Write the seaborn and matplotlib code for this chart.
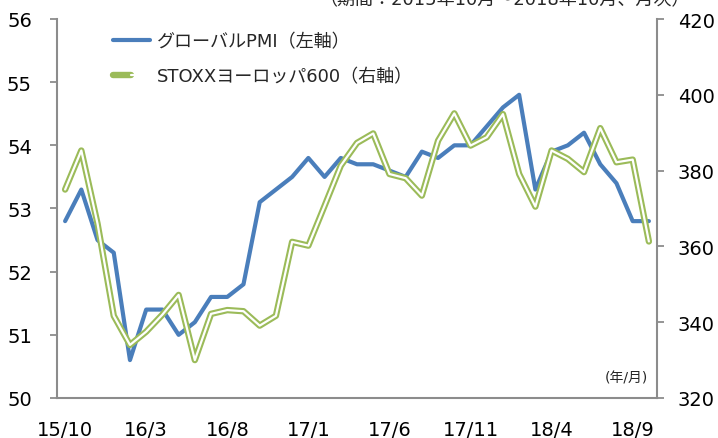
import matplotlib
matplotlib.use("Agg")
import matplotlib.pyplot as plt
from matplotlib.lines import Line2D
from matplotlib.legend_handler import HandlerTuple
import seaborn as sns
import pandas as pd
import numpy as np

# ---- data ----
months = ["15/10", "15/11", "15/12", "16/1", "16/2", "16/3", "16/4", "16/5", "16/6", "16/7",
          "16/8", "16/9", "16/10", "16/11", "16/12", "17/1", "17/2", "17/3", "17/4", "17/5",
          "17/6", "17/7", "17/8", "17/9", "17/10", "17/11", "17/12", "18/1", "18/2", "18/3",
          "18/4", "18/5", "18/6", "18/7", "18/8", "18/9", "18/10"]
pmi = [52.8, 53.3, 52.5, 52.3, 50.6, 51.4, 51.4, 51.0, 51.2, 51.6,
       51.6, 51.8, 53.1, 53.3, 53.5, 53.8, 53.5, 53.8, 53.7, 53.7,
       53.6, 53.5, 53.9, 53.8, 54.0, 54.0, 54.3, 54.6, 54.8, 53.3,
       53.9, 54.0, 54.2, 53.7, 53.4, 52.8, 52.8]
stoxx = [375.0, 385.3, 366.0, 341.7, 334.0, 337.5, 342.0, 347.2, 330.0, 342.2,
         343.2, 342.9, 339.1, 341.7, 361.2, 360.2, 370.7, 381.3, 387.3, 389.8,
         379.1, 378.0, 373.4, 387.9, 395.1, 386.6, 388.8, 394.9, 379.1, 370.5,
         385.3, 383.1, 379.6, 391.2, 382.2, 382.9, 361.3]
label_pmi = "グローバルPMI（左軸）"
label_stoxx = "STOXXヨーロッパ600（右軸）"
left_ticks = [50, 51, 52, 53, 54, 55, 56]
right_ticks = [320, 340, 360, 380, 400, 420]
note_unit = "(年/月)"
note_period = "（期間：2015年10月～2018年10月、月次）"

df = pd.DataFrame({"idx": np.arange(len(months)), "pmi": pmi, "stoxx": stoxx})

sns.set_style("white")
plt.rcParams['font.family'] = ['DejaVu Sans', 'Noto Sans CJK JP']

blue = "#4A7EBB"
green = "#9BBB59"
spine_c = "#8C8C8C"

fig = plt.figure(figsize=(7.18, 4.39), dpi=100)
ax = fig.add_axes([57/718, 1-399/439, 600/718, 379/439])
ax2 = ax.twinx()

sns.lineplot(data=df, x="idx", y="pmi", ax=ax, color=blue, linewidth=3.0, legend=False,
             solid_capstyle='round', solid_joinstyle='round')
sns.lineplot(data=df, x="idx", y="stoxx", ax=ax2, color=green, linewidth=4.6, legend=False,
             solid_capstyle='round', solid_joinstyle='round')
sns.lineplot(data=df, x="idx", y="stoxx", ax=ax2, color="white", linewidth=1.6, legend=False,
             solid_capstyle='round', solid_joinstyle='round')

ax.set_xlim(-0.5, len(months) - 0.5)
ax.set_ylim(50, 56)
ax2.set_ylim(320, 420)
ax.set_yticks(left_ticks)
ax.set_yticklabels([str(t) for t in left_ticks])
ax2.set_yticks(right_ticks)
ax2.set_yticklabels([str(t) for t in right_ticks])

lab_idx = list(range(0, len(months), 5))
ax.set_xticks(lab_idx)
ax.set_xticklabels([months[i] for i in lab_idx])
ax.set_xticks([i - 0.5 for i in lab_idx], minor=True)
ax.tick_params(axis='x', which='major', length=0, pad=16, labelsize=14, colors='black')
ax.tick_params(axis='x', which='minor', length=5, width=1.3, color=spine_c, direction='out')
ax.tick_params(axis='y', length=5, width=1.3, color=spine_c, direction='out', labelsize=14,
               labelcolor='black', pad=13)
ax2.tick_params(axis='y', length=5, width=1.3, color=spine_c, direction='out', labelsize=14,
                labelcolor='black', pad=10)
ax.set_xlabel("")
ax.set_ylabel("")
ax2.set_ylabel("")

for a in (ax, ax2):
    a.spines['top'].set_visible(False)
    for s in ('left', 'right', 'bottom'):
        a.spines[s].set_color(spine_c)
        a.spines[s].set_linewidth(1.5)
ax.spines['right'].set_visible(False)
ax2.spines['left'].set_visible(False)
ax2.spines['bottom'].set_visible(False)

h1 = Line2D([], [], color=blue, linewidth=3.0)
h2a = Line2D([], [], color=green, linewidth=4.6, solid_capstyle='round')
h2b = Line2D([], [], color="white", linewidth=1.6, solid_capstyle='round')
leg = ax2.legend([h1, (h2a, h2b)], [label_pmi, label_stoxx],
                 handler_map={tuple: HandlerTuple(ndivide=None, pad=0)},
                 loc='upper left', bbox_to_anchor=(0.093, 0.965), frameon=False,
                 fontsize=13, handlelength=2.05, handletextpad=0.4, labelspacing=0.95,
                 borderpad=0, borderaxespad=0)

ax.text(0.985, 0.035, note_unit, transform=ax.transAxes, ha='right', va='bottom', fontsize=10)
fig.text(690/718, 1.0, note_period, ha='right', va='center', fontsize=13)

fig.savefig("out.png", dpi=100)
